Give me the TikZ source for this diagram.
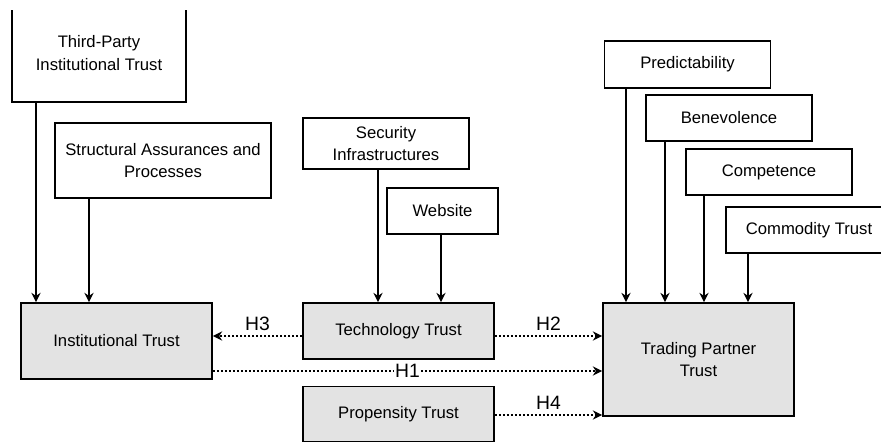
\documentclass[tikz,border=0pt]{standalone}
\usepackage{fontspec}
\setmainfont{Liberation Sans}
\usetikzlibrary{arrows.meta}

\begin{document}
\begin{tikzpicture}[x=0.75pt,y=-0.75pt,
    every node/.style={font=\fontsize{12.5}{17}\selectfont},
    factor/.style={draw,line width=1.3pt,fill=white,align=center,inner sep=2pt},
    trust/.style={draw,line width=1.3pt,fill=black!11,align=center,inner sep=2pt},
    hlabel/.style={font=\fontsize{14.5}{17}\selectfont},
    arr/.style={line width=1pt,-{Stealth[length=7pt,width=7pt]}},
    hyp/.style={line width=1.1pt,dash pattern=on 1.8pt off 1.2pt,-{Stealth[length=7pt,width=7pt]}}]
    \useasboundingbox (0,0) rectangle (881,443);
    \clip (0,10) rectangle (881,443);

    % antecedents
    \node[factor,minimum width=130.5pt,minimum height=73.5pt] (thirdparty) at (99,53) {Third-Party\\Institutional Trust};
    \node[factor,minimum width=162pt,minimum height=56.25pt] (structural) at (163,160.5) {Structural Assurances and\\Processes};
    \node[factor,minimum width=124.5pt,minimum height=38.25pt] (security) at (386,143.5) {Security\\Infrastructures};
    \node[factor,minimum width=83.25pt,minimum height=34.5pt] (website) at (442.5,211) {Website};
    \node[factor,minimum width=124.5pt,minimum height=35.25pt] (predict) at (687.5,64.5) {Predictability};
    \node[factor,minimum width=124.5pt,minimum height=34.5pt] (benev) at (729,118) {Benevolence};
    \node[factor,minimum width=124.5pt,minimum height=34.5pt] (compet) at (769,172) {Competence};
    \node[factor,minimum width=124.5pt,minimum height=34.5pt] (commod) at (809,230) {Commodity Trust};

    % trust constructs
    \node[trust,minimum width=143.25pt,minimum height=57pt] (inst) at (116.5,341) {Institutional Trust};
    \node[trust,minimum width=143.25pt,minimum height=42pt] (tech) at (398.5,331) {Technology Trust};
    \node[trust,minimum width=143.25pt,minimum height=41.25pt] (prop) at (398.5,414) {Propensity Trust};
    \node[trust,minimum width=143.25pt,minimum height=84.75pt] (trading) at (698.5,359.5) {Trading Partner\\Trust};

    \draw[arr] (thirdparty.south -| 36,0) -- (inst.north -| 36,0);
    \draw[arr] (structural.south -| 89,0) -- (inst.north -| 89,0);
    \draw[arr] (security.south -| 378,0) -- (tech.north -| 378,0);
    \draw[arr] (website.south -| 441,0) -- (tech.north -| 441,0);
    \draw[arr] (predict.south -| 626,0) -- (trading.north -| 626,0);
    \draw[arr] (benev.south -| 665,0) -- (trading.north -| 665,0);
    \draw[arr] (compet.south -| 704,0) -- (trading.north -| 704,0);
    \draw[arr] (commod.south -| 748,0) -- (trading.north -| 748,0);

    % hypotheses
    \draw[hyp] (tech.west |- 0,336) -- node[midway,above,hlabel] {H3} (inst.east |- 0,336);
    \draw[hyp] (tech.east |- 0,336) -- node[midway,above,hlabel] {H2} (trading.west |- 0,336);
    \draw[hyp] (inst.east |- 0,371) -- node[midway,fill=white,inner sep=1pt,hlabel] {H1} (trading.west |- 0,371);
    \draw[hyp] (prop.east |- 0,415) -- node[midway,above,hlabel] {H4} (trading.west |- 0,415);
\end{tikzpicture}
\end{document}
